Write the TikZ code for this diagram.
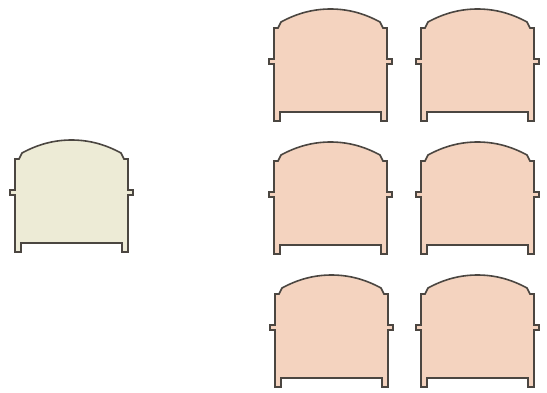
\documentclass[tikz,border=0pt]{standalone}
\definecolor{outline}{HTML}{4B4641}
\definecolor{stonefill}{HTML}{EDEBD6}
\definecolor{brickfill}{HTML}{F4D3BF}

\begin{document}
\begin{tikzpicture}[x=1pt,y=-1pt,
    slab/.style={draw=outline,line width=1.6pt,line join=miter},
    pics/arch/.style={code={
        \draw[slab,fill=#1] (0,0) -- (6,0) -- (6,-9) -- (107,-9) -- (107,0) -- (113,0)
            -- (113,-57) -- (118,-57) -- (118,-62) -- (113,-62) -- (113,-93) -- (109,-93)
            -- (106,-99) .. controls (90.4,-107.5) and (74.3,-112) .. (56.5,-112)
            .. controls (38.7,-112) and (22.6,-107.5) .. (7,-99)
            -- (4,-93) -- (0,-93) -- (0,-62) -- (-5,-62) -- (-5,-57) -- (0,-57) -- cycle;
    }}
]
\useasboundingbox[fill=white] (0,0) rectangle (547,392);

% single block on the left
\pic (single) at (15,252) {arch=stonefill};

% two columns of three blocks
\pic (topL) at (274,121) {arch=brickfill};
\pic (topR) at (421,121) {arch=brickfill};
\pic (midL) at (274,254) {arch=brickfill};
\pic (midR) at (421,254) {arch=brickfill};
\pic (botL) at (275,387) {arch=brickfill};
\pic (botR) at (421,387) {arch=brickfill};
\end{tikzpicture}
\end{document}
